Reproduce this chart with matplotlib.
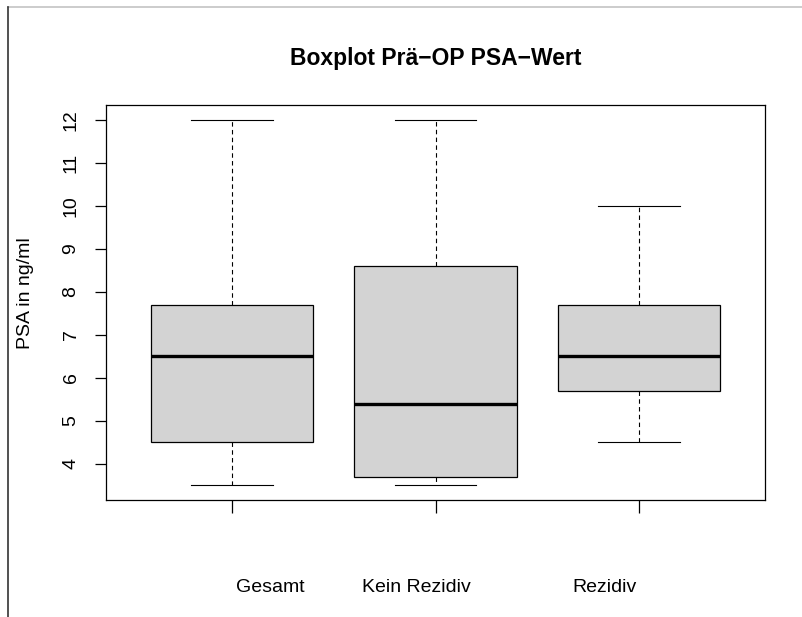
import matplotlib
matplotlib.use("Agg")
import matplotlib.pyplot as plt
from matplotlib.lines import Line2D
import matplotlib.transforms as mtransforms

plt.rcParams['font.family'] = ['Liberation Sans', 'DejaVu Sans']

categories = ["Gesamt", "Kein Rezidiv", "Rezidiv"]
whisker_low = [3.5, 3.5, 4.5]
q1 = [4.5, 3.7, 5.7]
median = [6.5, 5.4, 6.5]
q3 = [7.7, 8.6, 7.7]
whisker_high = [12.0, 12.0, 10.0]
yticks = [4, 5, 6, 7, 8, 9, 10, 11, 12]
label_x = [1.187, 1.906, 2.83]

W, H = 802, 617
fig = plt.figure(figsize=(W / 100, H / 100), dpi=100)
ax = fig.add_axes([106 / W, 1 - 500 / H, 659 / W, 395 / H])

stats = []
for i, c in enumerate(categories):
    stats.append(dict(label=c, whislo=whisker_low[i], q1=q1[i], med=median[i],
                      q3=q3[i], whishi=whisker_high[i], fliers=[]))

ax.bxp(stats, positions=[1, 2, 3], widths=0.8, patch_artist=True,
       showfliers=False,
       boxprops=dict(facecolor='#d3d3d3', edgecolor='black', linewidth=0.9),
       medianprops=dict(color='black', linewidth=2.4, solid_capstyle='butt'),
       whiskerprops=dict(color='black', linewidth=0.8, linestyle=(0, (4, 3))),
       capprops=dict(color='black', linewidth=0.8),
       capwidths=0.4)

ymin, ymax = 3.5, 12.0
pad = (ymax - ymin) * 0.04
ax.set_ylim(ymin - pad, ymax + pad)
ax.set_xlim(0.5 - 0.12, 3.5 + 0.12)

ax.set_yticks(yticks)
ax.set_yticklabels([str(v) for v in yticks], rotation=90, va='center', fontsize=14)
ax.set_xticks([1, 2, 3])
ax.set_xticklabels([])
ax.tick_params(axis='y', length=8, width=0.9, pad=11)
ax.tick_params(axis='x', length=9, width=0.9)
for s in ax.spines.values():
    s.set_linewidth(0.9)

trans = mtransforms.blended_transform_factory(ax.transData, fig.transFigure)
for x, c in zip(label_x, categories):
    fig.text(x, 1 - 592 / H, c, transform=trans, ha='center', va='baseline', fontsize=14)

fig.text(436 / W, 1 - 65 / H, "Boxplot Prä\u2212OP PSA\u2212Wert", ha='center', va='baseline',
         fontsize=16.5, fontweight='bold')
fig.text(34 / W, 1 - 293 / H, "PSA in ng/ml", rotation=90, ha='right', va='center',
         fontsize=14)

fig.add_artist(Line2D([8 / W, 1], [1 - 7 / H, 1 - 7 / H], transform=fig.transFigure,
                      color='#c4c4c4', linewidth=1.2))
fig.add_artist(Line2D([8 / W, 8 / W], [1 - 7 / H, 0], transform=fig.transFigure,
                      color='#333333', linewidth=1.2))

fig.savefig("out.png", dpi=100)
